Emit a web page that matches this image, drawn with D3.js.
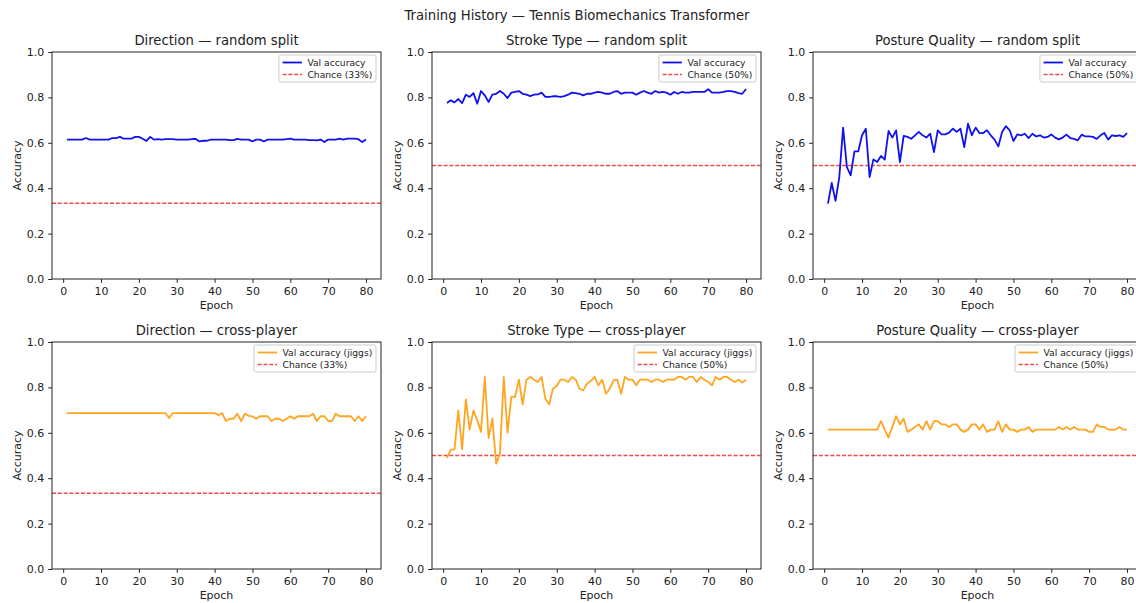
<!DOCTYPE html>
<html>
<head>
<meta charset="utf-8">
<script src="https://cdn.jsdelivr.net/npm/d3@7"></script>
<style>
body { margin: 0; background: #fff; }
svg { display: block; font-family: "DejaVu Sans", sans-serif; }
</style>
</head>
<body>
<div class="chart"></div>
<script>
// Epoch index (x values)
var epochs = d3.range(1, 81);

// Validation accuracy read per epoch, random split (top row)
var dirRandom = [
  0.614,0.614,0.614,0.614,0.614,0.621,0.614,0.614,0.614,0.614,
  0.614,0.614,0.621,0.621,0.626,0.618,0.618,0.618,0.626,0.626,
  0.618,0.608,0.626,0.614,0.616,0.614,0.616,0.616,0.616,0.614,
  0.614,0.614,0.614,0.616,0.617,0.606,0.609,0.609,0.614,0.614,
  0.614,0.614,0.614,0.612,0.612,0.617,0.614,0.614,0.614,0.606,
  0.614,0.614,0.606,0.614,0.614,0.614,0.614,0.614,0.616,0.618,
  0.614,0.614,0.614,0.614,0.612,0.612,0.611,0.614,0.603,0.614,
  0.614,0.614,0.618,0.614,0.618,0.618,0.618,0.616,0.603,0.614];
var strokeRandom = [
  0.775,0.787,0.778,0.793,0.775,0.812,0.802,0.819,0.772,0.828,
  0.809,0.780,0.812,0.816,0.828,0.816,0.797,0.821,0.824,0.828,
  0.816,0.812,0.806,0.812,0.813,0.821,0.802,0.802,0.805,0.805,
  0.802,0.806,0.812,0.821,0.819,0.816,0.809,0.816,0.816,0.821,
  0.824,0.821,0.816,0.816,0.824,0.828,0.816,0.821,0.821,0.821,
  0.812,0.821,0.828,0.821,0.816,0.828,0.821,0.824,0.821,0.812,
  0.824,0.816,0.824,0.821,0.821,0.824,0.824,0.824,0.824,0.836,
  0.821,0.821,0.821,0.824,0.828,0.828,0.824,0.819,0.816,0.837];
var postureRandom = [
  0.332,0.423,0.344,0.449,0.667,0.493,0.457,0.562,0.562,0.633,
  0.662,0.449,0.527,0.515,0.542,0.526,0.652,0.623,0.655,0.515,
  0.630,0.626,0.618,0.633,0.648,0.633,0.623,0.640,0.559,0.655,
  0.637,0.637,0.645,0.662,0.648,0.662,0.581,0.684,0.633,0.667,
  0.643,0.643,0.655,0.633,0.614,0.584,0.648,0.673,0.655,0.608,
  0.637,0.633,0.640,0.621,0.640,0.628,0.633,0.623,0.626,0.637,
  0.623,0.615,0.623,0.636,0.621,0.617,0.611,0.636,0.628,0.628,
  0.626,0.617,0.633,0.643,0.614,0.633,0.630,0.633,0.626,0.643];

// Validation accuracy, cross-player (jiggs held out, bottom row)
var dirCross = [
  0.687,0.687,0.687,0.687,0.687,0.687,0.687,0.687,0.687,0.687,
  0.687,0.687,0.687,0.687,0.687,0.687,0.687,0.687,0.687,0.687,
  0.687,0.687,0.687,0.687,0.687,0.687,0.687,0.665,0.687,0.687,
  0.687,0.687,0.687,0.687,0.687,0.687,0.687,0.687,0.687,0.687,
  0.677,0.687,0.652,0.662,0.662,0.684,0.652,0.684,0.675,0.672,
  0.662,0.673,0.673,0.673,0.652,0.662,0.662,0.652,0.662,0.673,
  0.662,0.673,0.673,0.673,0.673,0.684,0.652,0.673,0.673,0.652,
  0.652,0.684,0.673,0.673,0.673,0.673,0.652,0.673,0.652,0.673];
var strokeCross = [
  0.490,0.526,0.527,0.699,0.527,0.747,0.614,0.699,0.655,0.604,
  0.846,0.577,0.662,0.464,0.508,0.846,0.601,0.758,0.758,0.834,
  0.725,0.834,0.846,0.834,0.824,0.846,0.750,0.725,0.794,0.806,
  0.834,0.834,0.824,0.846,0.834,0.794,0.787,0.816,0.828,0.846,
  0.809,0.834,0.772,0.794,0.831,0.834,0.772,0.846,0.834,0.834,
  0.809,0.834,0.834,0.834,0.824,0.834,0.834,0.824,0.834,0.834,
  0.834,0.846,0.846,0.834,0.846,0.846,0.824,0.846,0.834,0.824,
  0.809,0.846,0.834,0.846,0.846,0.834,0.824,0.834,0.821,0.834];
var postureCross = [
  0.614,0.614,0.614,0.614,0.614,0.614,0.614,0.614,0.614,0.614,
  0.614,0.614,0.614,0.614,0.651,0.614,0.579,0.626,0.673,0.637,
  0.662,0.604,0.614,0.626,0.637,0.614,0.651,0.614,0.651,0.651,
  0.637,0.637,0.626,0.637,0.637,0.614,0.604,0.614,0.637,0.637,
  0.614,0.637,0.604,0.614,0.614,0.651,0.604,0.637,0.614,0.614,
  0.604,0.614,0.614,0.626,0.604,0.614,0.614,0.614,0.614,0.614,
  0.614,0.626,0.614,0.626,0.614,0.626,0.614,0.614,0.614,0.604,
  0.604,0.637,0.626,0.626,0.614,0.614,0.614,0.626,0.614,0.614];

// Tasks, chance levels and labels
var tasks = ["Direction", "Stroke Type", "Posture Quality"];
var chanceLevels = [1 / 3, 0.5, 0.5];
var chanceLabels = ["Chance (33%)", "Chance (50%)", "Chance (50%)"];
var splits = ["random split", "cross-player"];
var seriesLabels = ["Val accuracy", "Val accuracy (jiggs)"];
var xTicks = [0, 10, 20, 30, 40, 50, 60, 70, 80];
var yTicks = [0, 0.2, 0.4, 0.6, 0.8, 1.0];

var seriesByRow = [
  [dirRandom, strokeRandom, postureRandom],
  [dirCross, strokeCross, postureCross]
];
var lineColors = ["#1010f0", "#ffa520"];
var chanceColor = "#f24a4a";

// SVG area and subplot grid (1pt ~ 1.1px)
var svgWidth = 1136;
var svgHeight = 603;
var pt = 1.1;
var colLeft = [52, 432, 813];
var rowTop = [52, 342];
var axW = 329;
var axH = 227;
var ink = "#222";

var svg = d3.select(".chart")
  .append("svg")
  .attr("width", svgWidth)
  .attr("height", svgHeight);

// Figure title
svg.append("text")
  .attr("x", 577)
  .attr("y", 20)
  .attr("text-anchor", "middle")
  .attr("font-size", 12 * pt)
  .attr("fill", ink)
  .text("Training History \u2014 Tennis Biomechanics Transformer");

// Shared scales
var xScale = d3.scaleLinear().domain([1 - 0.05 * 79, 80 + 0.05 * 79]).range([0, axW]);
var yScale = d3.scaleLinear().domain([0, 1]).range([axH, 0]);

var line = d3.line()
  .x(function(d, i) { return xScale(epochs[i]); })
  .y(function(d) { return yScale(d); });

splits.forEach(function(split, r) {
  tasks.forEach(function(task, c) {
    var g = svg.append("g")
      .attr("transform", "translate(" + colLeft[c] + "," + rowTop[r] + ")");

    // Subplot title
    g.append("text")
      .attr("x", axW / 2)
      .attr("y", -7)
      .attr("text-anchor", "middle")
      .attr("font-size", 12 * pt)
      .attr("fill", ink)
      .text(task + " \u2014 " + split);

    // Axes
    var bottomAxis = d3.axisBottom(xScale)
      .tickValues(xTicks).tickFormat(d3.format("d"))
      .tickSize(3.5 * pt).tickPadding(3.5 * pt);
    var leftAxis = d3.axisLeft(yScale)
      .tickValues(yTicks).tickFormat(d3.format(".1f"))
      .tickSize(3.5 * pt).tickPadding(3.5 * pt);

    var xg = g.append("g")
      .attr("transform", "translate(0," + axH + ")")
      .call(bottomAxis);
    var yg = g.append("g").call(leftAxis);
    [xg, yg].forEach(function(a) {
      a.select(".domain").remove();
      a.selectAll("line").attr("stroke", ink).attr("stroke-width", 1);
      a.selectAll("text")
        .attr("font-size", 10 * pt)
        .attr("font-family", "DejaVu Sans, sans-serif")
        .attr("fill", ink);
    });

    // Axis labels
    g.append("text")
      .attr("x", axW / 2)
      .attr("y", axH + 30)
      .attr("text-anchor", "middle")
      .attr("font-size", 10 * pt)
      .attr("fill", ink)
      .text("Epoch");
    g.append("text")
      .attr("transform", "translate(-31," + (axH / 2) + ") rotate(-90)")
      .attr("text-anchor", "middle")
      .attr("font-size", 10 * pt)
      .attr("fill", ink)
      .text("Accuracy");

    // Chance line
    g.append("line")
      .attr("x1", 0).attr("x2", axW)
      .attr("y1", yScale(chanceLevels[c]))
      .attr("y2", yScale(chanceLevels[c]))
      .attr("stroke", chanceColor)
      .attr("stroke-width", 1.5)
      .attr("stroke-dasharray", "4,1.8");

    // Accuracy line
    g.append("path")
      .datum(seriesByRow[r][c])
      .attr("d", line)
      .attr("fill", "none")
      .attr("stroke", lineColors[r])
      .attr("stroke-width", 1.8)
      .attr("stroke-linejoin", "round");

    // Spines
    g.append("rect")
      .attr("width", axW).attr("height", axH)
      .attr("fill", "none")
      .attr("stroke", ink)
      .attr("stroke-width", 1);

    // Legend (upper right)
    var fs = 9.2;
    var lg = g.append("g");
    var box = lg.append("rect")
      .attr("fill", "#fff").attr("fill-opacity", 0.8)
      .attr("stroke", "#cccccc").attr("stroke-width", 1)
      .attr("rx", 2);
    var labels = [seriesLabels[r], chanceLabels[c]];
    var maxW = 0;
    var texts = lg.selectAll("text.lab")
      .data(labels)
      .enter().append("text")
      .attr("class", "lab")
      .attr("font-size", fs)
      .attr("fill", ink)
      .attr("dy", "0.35em")
      .text(function(d) { return d; });
    texts.each(function() { maxW = Math.max(maxW, this.getComputedTextLength()); });

    var pad = 0.4 * fs, handle = 2.1 * fs, gap = 0.6 * fs, rowH = 12;
    var boxW = pad + handle + gap + maxW + pad;
    var boxH = 27;
    var boxX = axW - 5 - boxW;
    var boxY = 3;
    box.attr("x", boxX).attr("y", boxY).attr("width", boxW).attr("height", boxH);

    texts
      .attr("x", boxX + pad + handle + gap)
      .attr("y", function(d, i) { return boxY + 7.5 + i * rowH; });

    lg.append("line")
      .attr("x1", boxX + pad).attr("x2", boxX + pad + handle)
      .attr("y1", boxY + 7.5).attr("y2", boxY + 7.5)
      .attr("stroke", lineColors[r]).attr("stroke-width", 1.8);
    lg.append("line")
      .attr("x1", boxX + pad).attr("x2", boxX + pad + handle)
      .attr("y1", boxY + 7.5 + rowH).attr("y2", boxY + 7.5 + rowH)
      .attr("stroke", chanceColor)
      .attr("stroke-width", 1.5)
      .attr("stroke-dasharray", "4,1.8");
  });
});
</script>
</body>
</html>
